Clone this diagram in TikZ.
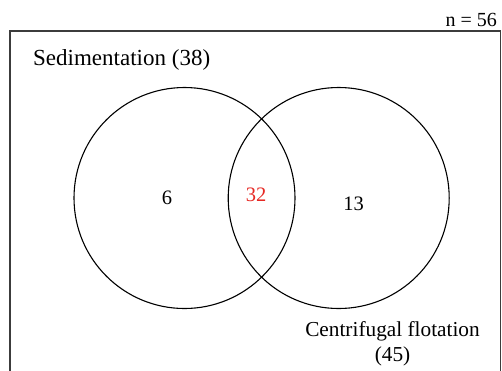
\documentclass[tikz,border=0pt]{standalone}
\usepackage{fontspec}
\setmainfont{Liberation Serif}
\definecolor{numred}{RGB}{230,40,35}
\definecolor{framegray}{RGB}{60,60,60}
\begin{document}
\begin{tikzpicture}[x=1pt,y=-1pt,
  setcircle/.style={draw=black,line width=1.1pt,circle,minimum size=221pt,inner sep=0pt},
  lbl/.style={font=\fontsize{20.5}{23}\selectfont,inner sep=0pt,text=black},
  biglbl/.style={font=\fontsize{23}{25.3}\selectfont,inner sep=0pt,text=black},
  framepath/.style={draw=framegray,line width=1.4pt}]
\useasboundingbox (0,0) rectangle (502,370);
\coordinate (bl) at (10,372);
\coordinate (tl) at (10,31);
\coordinate (tr) at (500.5,31);
\coordinate (br) at (500.5,372);
\draw[framepath] (bl) -- (tl) -- (tr) -- (br);
\node[setcircle] (A) at (184.5,198) {};
\node[setcircle] (B) at (338.7,198) {};
\node[lbl,font=\fontsize{20}{23}\selectfont,anchor=east] (n) at (497,20) {n = 56};
\node[biglbl,anchor=west] (sed) at (33,60) {Sedimentation (38)};
\node[lbl] (six) at (167,198) {6};
\node[lbl,text=numred] (both) at (256,195) {32};
\node[lbl] (thirteen) at (353.5,203.5) {13};
\node[biglbl,font=\fontsize{21.3}{25.3}\selectfont,align=center] (cf) at (392.5,344) {Centrifugal flotation\\(45)};
\end{tikzpicture}
\end{document}
